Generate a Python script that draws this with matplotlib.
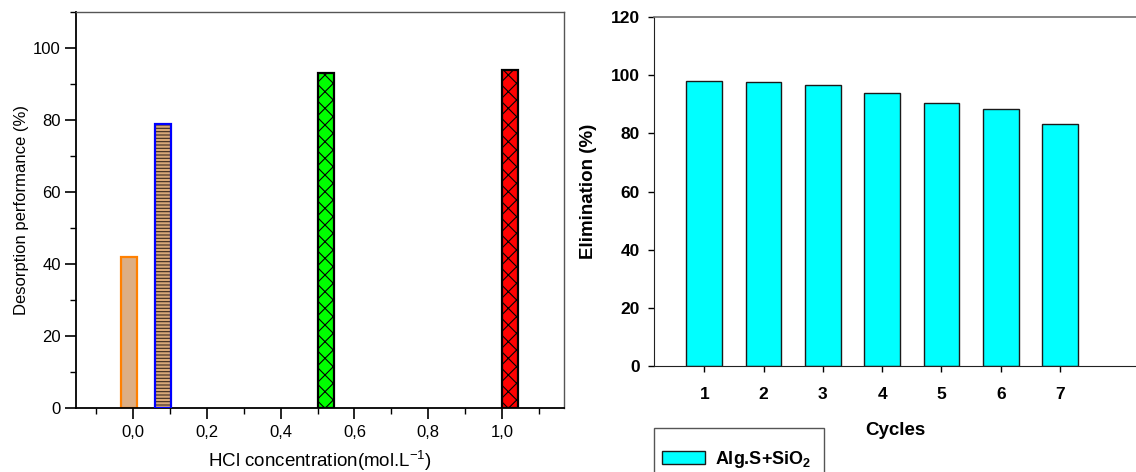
import matplotlib
matplotlib.use("Agg")
import matplotlib.pyplot as plt
from matplotlib.ticker import MultipleLocator, FuncFormatter
from matplotlib.patches import Rectangle

plt.rcParams['font.family'] = ['Liberation Sans', 'DejaVu Sans']
plt.rcParams['mathtext.fontset'] = 'custom'
plt.rcParams['mathtext.rm'] = 'Liberation Sans'
plt.rcParams['mathtext.it'] = 'Liberation Sans:italic'
plt.rcParams['mathtext.bf'] = 'Liberation Sans:bold'
plt.rcParams['hatch.linewidth'] = 0.8

# ---- Left panel data ----
hcl_conc = [-0.011, 0.080, 0.522, 1.022]     # bar centres (mol/L axis)
desorption = [42, 79, 93, 94]
left_fill = ['#dcae84', '#d8a878', '#00ff00', '#ff0000']
left_edge = ['#ff8000', '#0000ff', '#000000', '#000000']
left_hatch = [None, '-----', 'xx', 'xx']

# ---- Right panel data ----
cycles = [1, 2, 3, 4, 5, 6, 7]
elimination = [98, 97.7, 96.5, 94, 90.3, 88.5, 83.3]
series_label = 'Alg.S+SiO$_\\mathbf{2}$'

fig = plt.figure(figsize=(11.36, 4.72), dpi=100)

# Left axes
ax1 = fig.add_axes([76/1136, (472-408)/472, (564-76)/1136, (408-12)/472])
bw = 0.044
for x, h, fc, ec, ht in zip(hcl_conc, desorption, left_fill, left_edge, left_hatch):
    if ht == '-----':
        ax1.bar(x, h, width=bw, color=fc, edgecolor='#3a2a20', hatch=ht, linewidth=0, zorder=2)
        ax1.bar(x, h, width=bw, color='none', edgecolor=ec, linewidth=1.6, zorder=3)
    else:
        ax1.bar(x, h, width=bw, color=fc, edgecolor=ec, hatch=ht, linewidth=1.6, zorder=2)

ax1.set_xlim(-0.155, 1.168)
ax1.set_ylim(0, 110)
ax1.xaxis.set_major_locator(MultipleLocator(0.2))
ax1.xaxis.set_minor_locator(MultipleLocator(0.1))
ax1.set_yticks([0, 20, 40, 60, 80, 100])
ax1.yaxis.set_minor_locator(MultipleLocator(10))
ax1.xaxis.set_major_formatter(FuncFormatter(lambda v, p: f"{v:.1f}".replace('.', ',').replace('-0,0', '0,0')))
ax1.tick_params(axis='both', which='major', direction='out', length=8, width=1.2, labelsize=12, pad=3)
ax1.tick_params(axis='both', which='minor', direction='out', length=4, width=1.0)
ax1.tick_params(axis='x', which='major', pad=4)
for s in ['left', 'bottom']:
    ax1.spines[s].set_linewidth(1.3)
    ax1.spines[s].set_color('black')
for s in ['top', 'right']:
    ax1.spines[s].set_linewidth(1.0)
    ax1.spines[s].set_color('#555555')
ax1.set_ylabel('Desorption performance (%)', fontsize=12, labelpad=3)
ax1.set_xlabel('HCl concentration(mol.L$^{\\mathrm{-1}}$)', fontsize=13.5, labelpad=7)

# Right axes
ax2 = fig.add_axes([654/1136, (472-366.3)/472, (1136-654)/1136, (366.3-17)/472])
ax2.bar(cycles, elimination, width=0.6, color='#00ffff', edgecolor='#1a1a1a',
        linewidth=1.0, label=series_label, zorder=2)
ax2.set_xlim(0.152, 8.28)
ax2.set_ylim(0, 120)
ax2.set_xticks(cycles)
ax2.set_yticks([0, 20, 40, 60, 80, 100, 120])
ax2.tick_params(axis='both', direction='out', length=4, width=1.0, labelsize=12.5)
ax2.tick_params(axis='x', pad=11)
ax2.tick_params(axis='y', pad=6)
for lab in ax2.get_xticklabels() + ax2.get_yticklabels():
    lab.set_fontweight('bold')
ax2.spines['right'].set_visible(False)
ax2.spines['top'].set_color('#707070')
ax2.spines['top'].set_linewidth(1.2)
ax2.spines['left'].set_color('#222222')
ax2.spines['bottom'].set_color('#222222')
ax2.set_xlabel('Cycles', fontsize=13.5, fontweight='bold', labelpad=14)
ax2.set_ylabel('Elimination (%)', fontsize=13.5, fontweight='bold', labelpad=10)

# Legend (frame drawn separately, cut by the figure edge as in the original)
frame = Rectangle((654/1136, -0.1), (824-654)/1136, (472-428)/472 + 0.1,
                  transform=fig.transFigure, fill=False, edgecolor='#555555',
                  linewidth=1.0, figure=fig, zorder=1)
fig.patches.append(frame)
leg = fig.legend(loc='upper left', bbox_to_anchor=(662/1136, (472-449)/472),
                 prop={'weight': 'bold', 'size': 13}, frameon=False,
                 borderpad=0, handlelength=2.4, handletextpad=0.55, borderaxespad=0)

fig.savefig('out.png', dpi=100)
